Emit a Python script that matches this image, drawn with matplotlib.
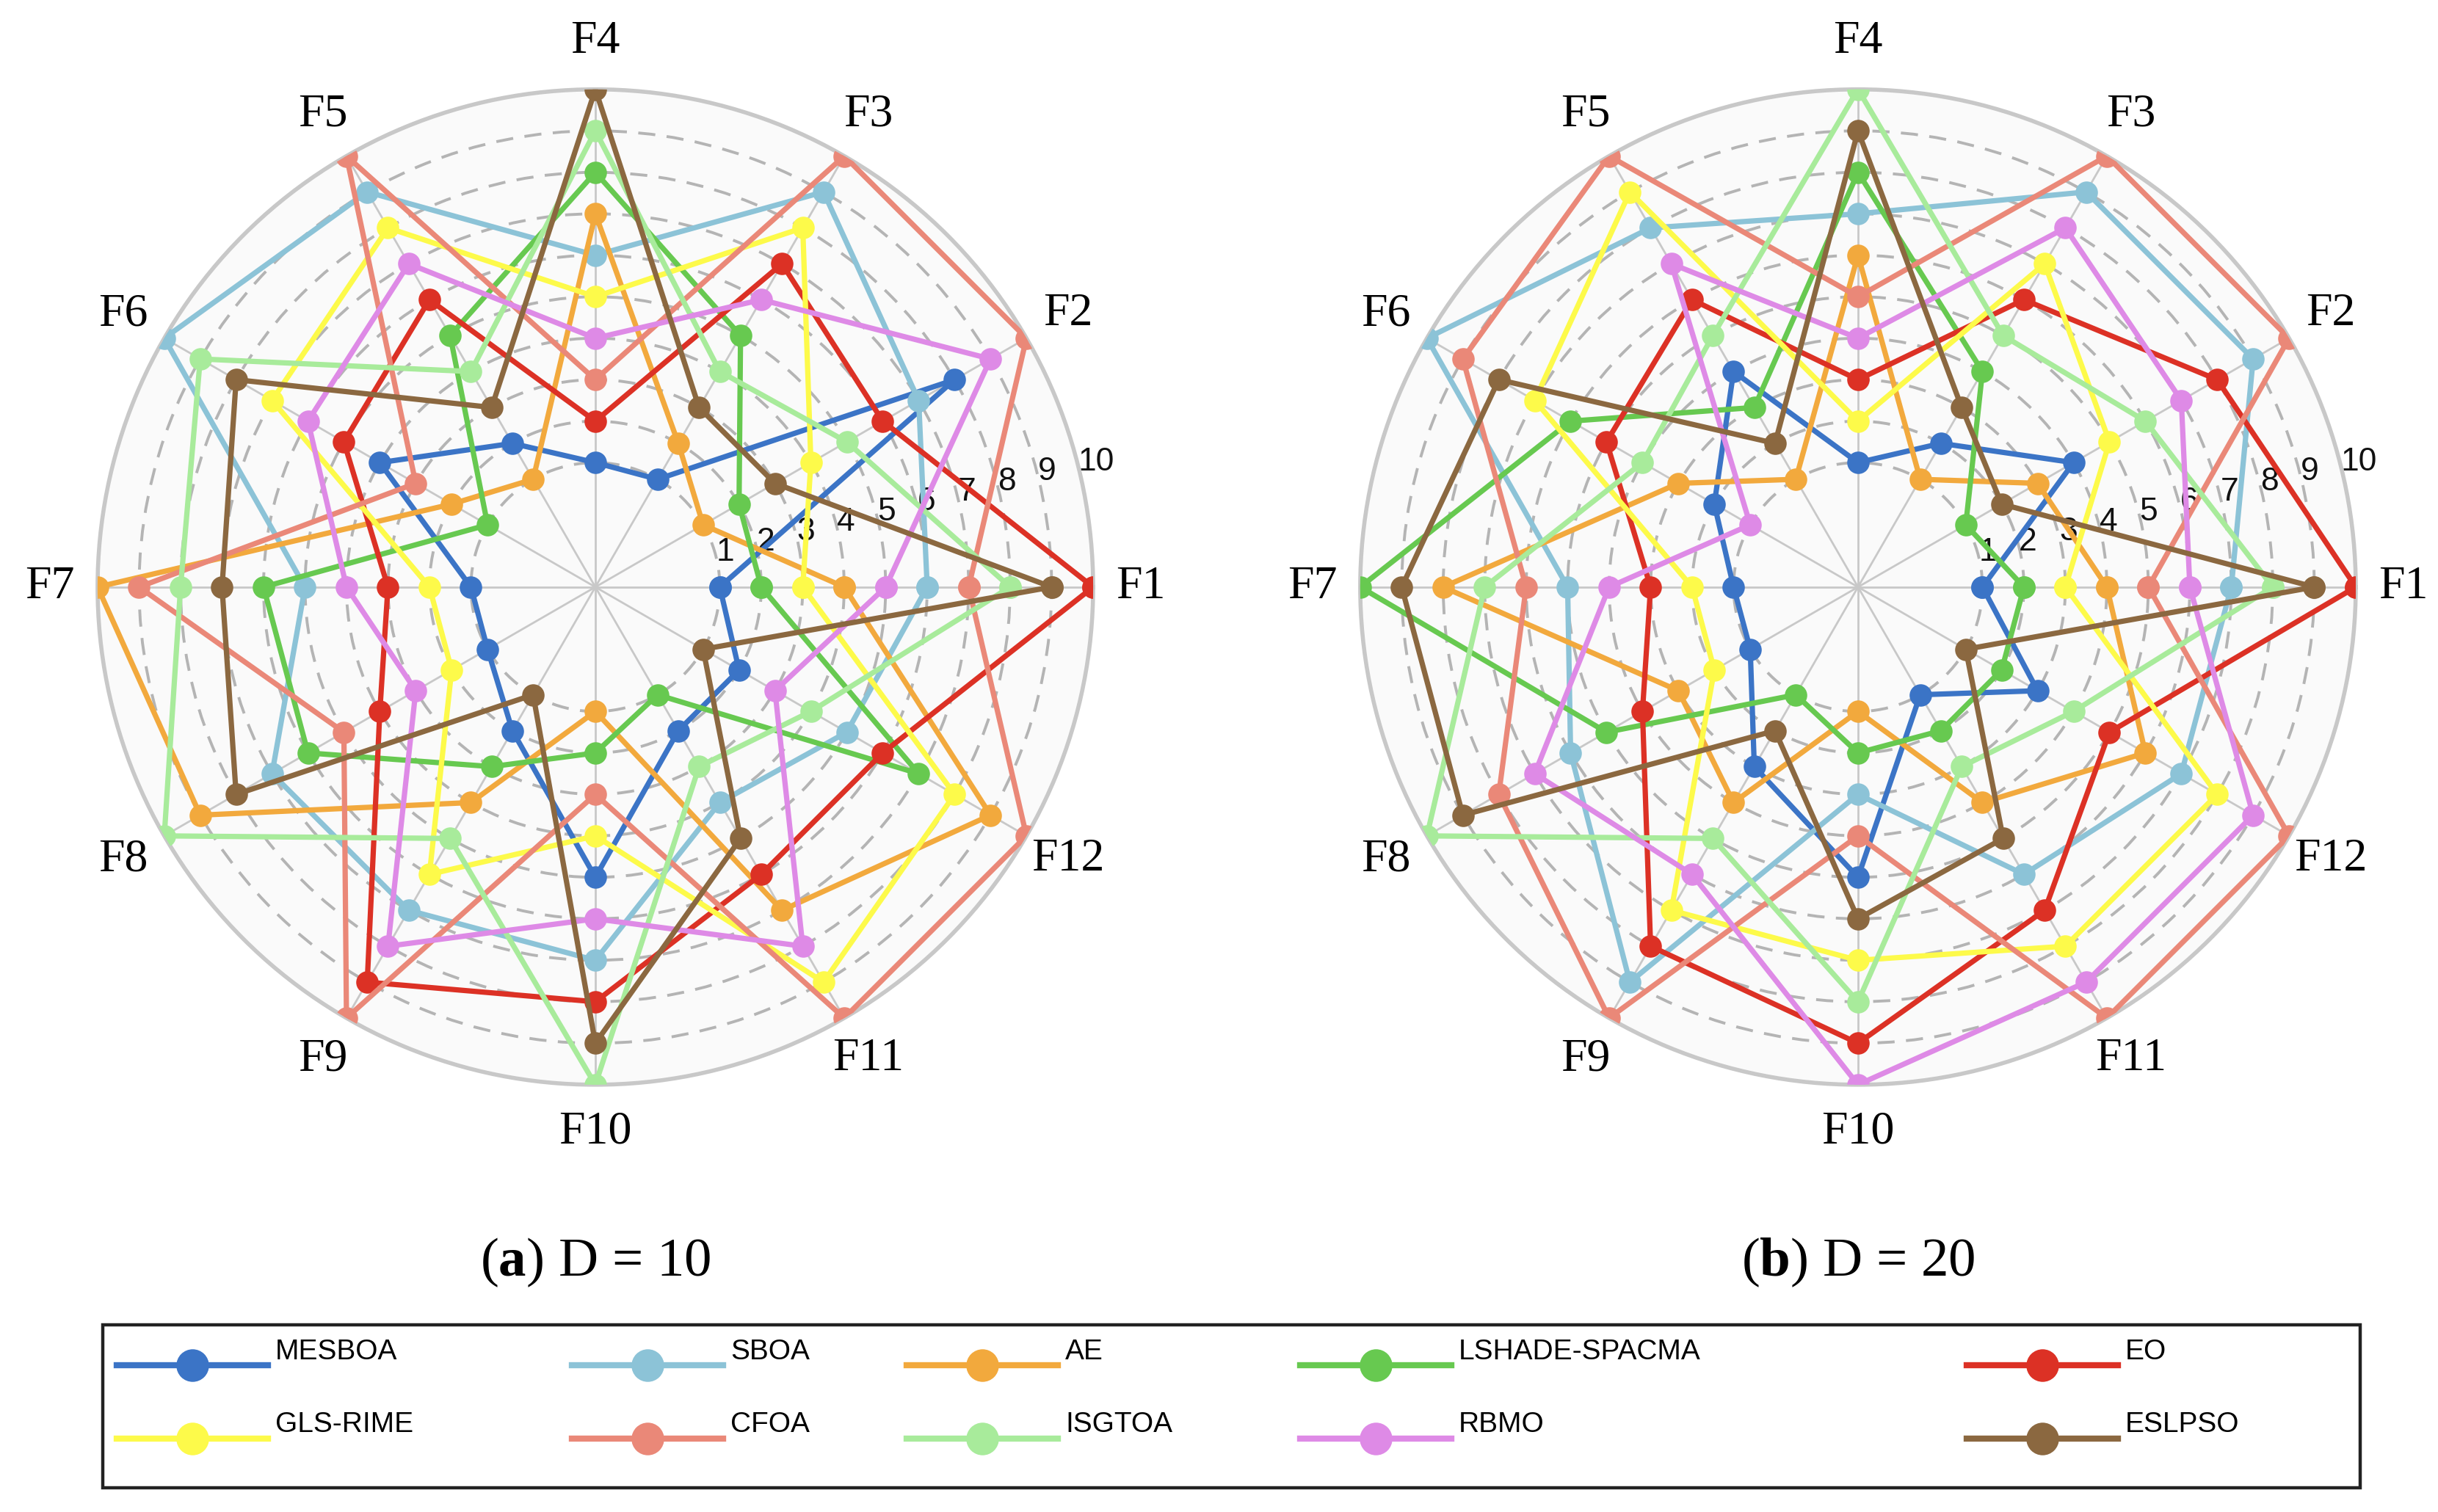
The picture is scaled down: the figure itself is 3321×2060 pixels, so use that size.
import matplotlib
matplotlib.use("Agg")
import matplotlib.pyplot as plt
import matplotlib.transforms as mtransforms
from matplotlib.lines import Line2D
from matplotlib.patches import Rectangle
import numpy as np

# ---- data (ranks) ----
functions = ["F%d" % i for i in range(1, 13)]
algorithms = ["MESBOA", "SBOA", "AE", "LSHADE-SPACMA", "EO",
              "GLS-RIME", "CFOA", "ISGTOA", "RBMO", "ESLPSO"]
colors = ["#3b74c6", "#8cc3d7", "#f2a93d", "#67c950", "#dc3125",
          "#fdfa4a", "#ea8878", "#a8eb9b", "#de8ae6", "#8b6840"]

# D = 10
d10_mesboa = [1, 8, 1, 1, 2, 4, 1, 1, 2, 5, 2, 2]
d10_sboa = [6, 7, 9, 6, 9, 10, 5, 7, 7, 7, 4, 5]
d10_ae = [4, 1, 2, 7, 1, 2, 10, 9, 4, 1, 7, 9]
d10_lshade = [2, 2, 5, 8, 5, 1, 6, 6, 3, 2, 1, 7]
d10_eo = [10, 6, 7, 2, 6, 5, 3, 4, 9, 8, 6, 6]
d10_glsrime = [3, 4, 8, 5, 8, 7, 2, 2, 6, 4, 9, 8]
d10_cfoa = [7, 10, 10, 3, 10, 3, 9, 5, 10, 3, 10, 10]
d10_isgtoa = [8, 5, 4, 9, 4, 9, 8, 10, 5, 10, 3, 4]
d10_rbmo = [5, 9, 6, 4, 7, 6, 4, 3, 8, 6, 8, 3]
d10_eslpso = [9, 3, 3, 10, 3, 8, 7, 8, 1, 9, 5, 1]

# D = 20
d20_mesboa = [1, 4, 2, 1, 4, 2, 1, 1, 3, 5, 1, 3]
d20_sboa = [7, 9, 9, 7, 8, 10, 5, 6, 9, 3, 6, 7]
d20_ae = [4, 3, 1, 6, 1, 3, 8, 3, 4, 1, 4, 6]
d20_lshade = [2, 1, 4, 8, 3, 6, 10, 5, 1, 2, 2, 2]
d20_eo = [10, 8, 6, 3, 6, 5, 3, 4, 8, 9, 7, 5]
d20_glsrime = [3, 5, 7, 2, 9, 7, 2, 2, 7, 7, 8, 8]
d20_cfoa = [5, 10, 10, 5, 10, 9, 6, 8, 10, 4, 10, 10]
d20_isgtoa = [8, 6, 5, 10, 5, 4, 7, 10, 5, 8, 3, 4]
d20_rbmo = [6, 7, 8, 4, 7, 1, 4, 7, 6, 10, 9, 9]
d20_eslpso = [9, 2, 3, 9, 2, 8, 9, 9, 2, 6, 5, 1]

d10 = [d10_mesboa, d10_sboa, d10_ae, d10_lshade, d10_eo,
       d10_glsrime, d10_cfoa, d10_isgtoa, d10_rbmo, d10_eslpso]
d20 = [d20_mesboa, d20_sboa, d20_ae, d20_lshade, d20_eo,
       d20_glsrime, d20_cfoa, d20_isgtoa, d20_rbmo, d20_eslpso]

serif = ["Liberation Serif", "DejaVu Serif"]
sans = ["Liberation Sans", "DejaVu Sans"]
plt.rcParams["mathtext.fontset"] = "custom"
plt.rcParams["mathtext.rm"] = "Liberation Serif"
plt.rcParams["mathtext.bf"] = "Liberation Serif:bold"


def radar(ax, data):
    theta = np.deg2rad(np.arange(len(functions)) * 30)
    theta_c = np.append(theta, theta[0])
    for vals, c in zip(data, colors):
        v = np.append(vals, vals[0])
        ax.plot(theta_c, v, color=c, lw=2.6, marker="o", ms=11,
                mec=c, mew=0, zorder=3)
    ax.set_ylim(-2, 10)
    ax.set_facecolor("#fafafa")
    ax.set_xticks(theta)
    ax.set_xticklabels([])
    ax.set_yticks(range(1, 11))
    ax.set_yticklabels([str(i) for i in range(1, 11)], fontsize=16,
                       family=sans, color="#111111")
    ax.set_rlabel_position(14)
    # nudge the rank labels slightly down, as in the original
    off = mtransforms.ScaledTranslation(0.0, -0.07, ax.figure.dpi_scale_trans)
    for lab in ax.get_yticklabels():
        lab.set_transform(lab.get_transform() + off)
    ax.xaxis.grid(True, color="#c8c8c8", lw=1.0, ls="-")
    ax.yaxis.grid(True, color="#b4b4b4", lw=1.4, ls=(0, (6, 4)))
    ax.spines["polar"].set_color("#c8c8c8")
    ax.spines["polar"].set_linewidth(2)
    for t, name in zip(theta, functions):
        ax.text(t, 11.15, name, ha="center", va="center",
                fontsize=23, family=serif)


fig = plt.figure(figsize=(16.605, 10.3), dpi=200)
ax1 = fig.add_axes([0.040, 0.2826, 0.4084, 0.6583], projection="polar")
ax2 = fig.add_axes([0.5579, 0.2826, 0.4084, 0.6583], projection="polar")
radar(ax1, d10)
radar(ax2, d20)

fig.text(0.2442, 0.165, r"($\mathbf{a}$) D = 10", ha="center", va="center",
         fontsize=27, family=serif)
fig.text(0.7621, 0.165, r"($\mathbf{b}$) D = 20", ha="center", va="center",
         fontsize=27, family=serif)

# legend frame
fig.patches.append(Rectangle((0.0422, 0.016), 0.9258, 0.1078,
                             transform=fig.transFigure, fill=False,
                             ec="#222222", lw=1.6))

col_x = [0.0479, 0.2346, 0.3719, 0.5333, 0.8067]
row_y = [0.0951, 0.047]
raise_txt = mtransforms.ScaledTranslation(0, 0.11, fig.dpi_scale_trans)
for i, (name, c) in enumerate(zip(algorithms, colors)):
    h = Line2D([], [], color=c, lw=3, marker="o", ms=16, mew=0)
    leg = fig.legend(handles=[h], labels=[name], loc="center left",
                     bbox_to_anchor=(col_x[i % 5], row_y[i // 5]),
                     frameon=False, borderpad=0, borderaxespad=0,
                     handlelength=5.3, handletextpad=0.25,
                     prop={"family": sans, "size": 14})
    for txt in leg.get_texts():
        txt.set_transform(txt.get_transform() + raise_txt)

fig.savefig("out.png", dpi=200, facecolor="white")
